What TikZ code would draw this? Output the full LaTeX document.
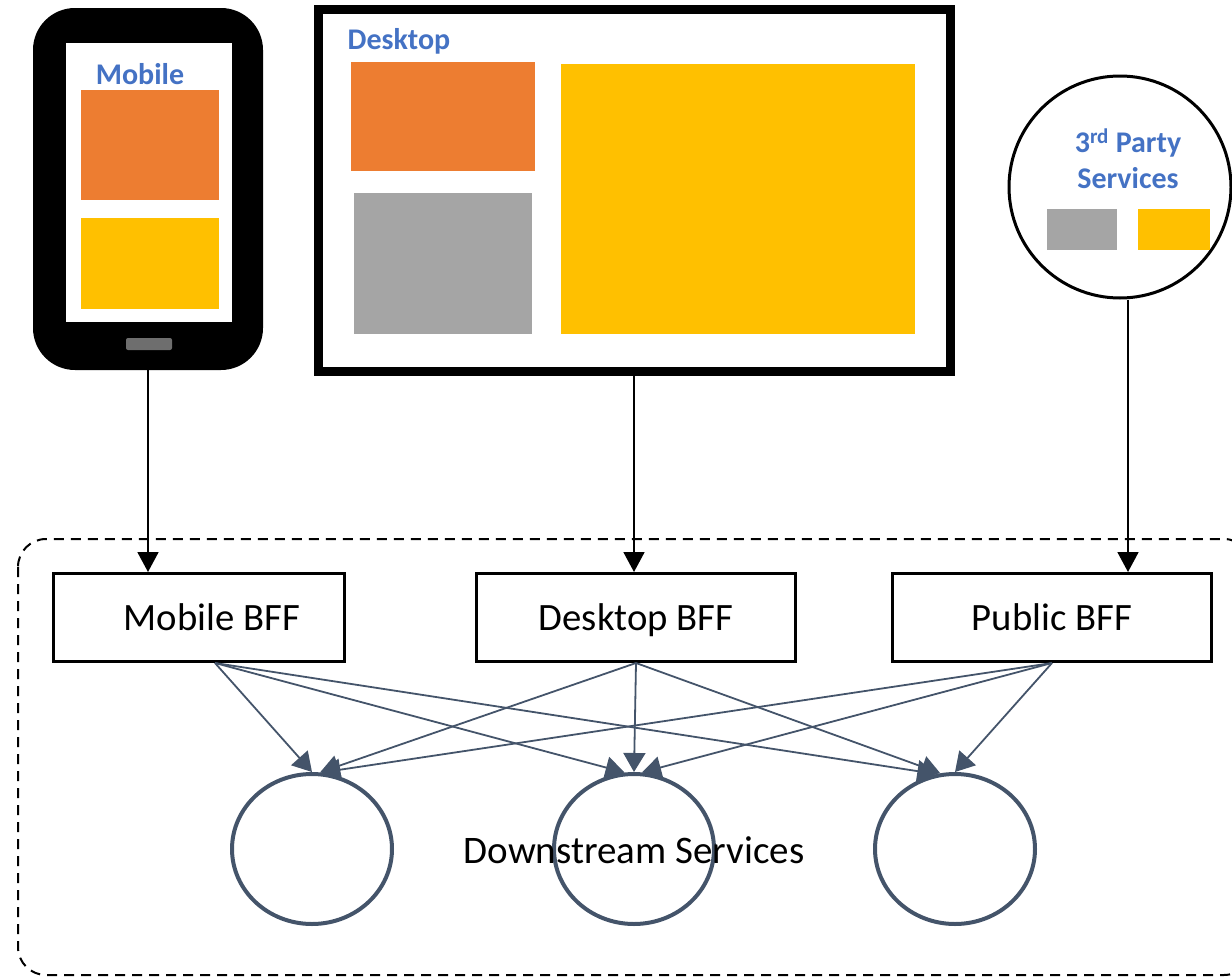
\documentclass[tikz,border=0pt]{standalone}
\usepackage{fontspec}
\setmainfont{Carlito}
\usetikzlibrary{arrows.meta,shapes.geometric,calc}
\definecolor{officeblue}{HTML}{4472C4}
\definecolor{accorange}{HTML}{ED7D31}
\definecolor{accyellow}{HTML}{FFC000}
\definecolor{accgray}{HTML}{A5A5A5}
\definecolor{slate}{HTML}{44546A}
\definecolor{btngray}{HTML}{6E6E6E}
\begin{document}
\begin{tikzpicture}[x=1pt,y=-1pt,
  bfftext/.style={font=\fontsize{38.7}{46}\selectfont,text height=27pt,text depth=2pt},
  bff/.style={draw=black,line width=3pt,minimum height=88pt,inner sep=0pt,bfftext},
  svc/.style={ellipse,draw=slate,line width=4pt,minimum width=160pt,minimum height=150pt,inner sep=0pt},
  caption/.style={text=officeblue,font=\fontsize{30}{35}\selectfont\bfseries,inner sep=0pt},
  feed/.style={draw=black,line width=1.8pt,-{Triangle[length=20pt,width=21pt]}},
  fanout/.style={draw=slate,line width=1.8pt,-{Triangle[length=19pt,width=22pt]}}]
\path[use as bounding box] (0,0) rectangle (1232,977);
\clip (0,0) rectangle (1232,977);

% gateway zone
\draw[black,line width=2pt,dash pattern=on 10pt off 7pt,rounded corners=28pt]
  (18,539) rectangle (1252,975);

% mobile device
\node[fill=black,rounded corners=42pt,minimum width=230pt,minimum height=362pt,inner sep=0pt]
  (phone) at (148,189) {};
\fill[white] (66,43) rectangle (232,322);
\node[caption] (mlabel) at (140,74) {Mobile};
\fill[accorange] (81,90) rectangle (219,200);
\fill[accyellow] (81,218) rectangle (219,309);
\fill[btngray,rounded corners=2pt] (126,338) rectangle (172,350);

% desktop screen
\node[draw=black,line width=9pt,minimum width=632pt,minimum height=362pt,inner sep=0pt]
  (desk) at (634,190) {};
\node[caption] (dlabel) at (399,41) {Desktop};
\fill[accorange] (351,62) rectangle (535,171);
\fill[accgray] (354,193) rectangle (532,334);
\fill[accyellow] (561,64) rectangle (915,334);

% third party services
\node[circle,draw=black,line width=3pt,minimum size=222pt,inner sep=0pt] (tp) at (1120,187) {};
\node[caption] (tplabel1) at (1128,143) {3\textsuperscript{rd} Party};
\node[caption] (tplabel2) at (1128,178) {Services};
\fill[accgray] (1047,209) rectangle (1117,250);
\fill[accyellow] (1138,209) rectangle (1210,250);

% backends for frontends
\node[bff,minimum width=291pt,label={[xshift=13pt,inner sep=0pt,bfftext]center:Mobile BFF}]
  (mbff) at (199,617.5) {};
\node[bff,minimum width=319pt] (dbff) at (636,617.5) {Desktop BFF};
\node[bff,minimum width=319pt] (pbff) at (1052,617.5) {Public BFF};

% downstream services
\node[svc] (c1) at (312,849) {};
\node[svc] (c2) at (634,849) {};
\node[svc] (c3) at (955,849) {};
\node[font=\fontsize{39}{46}\selectfont,inner sep=0pt] (ds) at (634,850) {Downstream Services};

% clients to BFFs
\draw[feed] (phone.south) -- (phone.south |- mbff.north);
\draw[feed] (desk.south) -- (desk.south |- dbff.north);
\draw[feed] ([xshift=8pt]tp.south) -- ([xshift=8pt]tp.south |- pbff.north);

% BFFs to downstream services
\coordinate (mo) at ([xshift=16pt]mbff.south);
\draw[fanout] (mo) -- (c1.90);
\draw[fanout] (mo) -- (c2.97);
\draw[fanout] (mo) -- (c3.104);
\draw[fanout] (dbff.south) -- (c1.84);
\draw[fanout] (dbff.south) -- (c2.90);
\draw[fanout] (dbff.south) -- (c3.101);
\draw[fanout] (pbff.south) -- (c1.83);
\draw[fanout] (pbff.south) -- (c2.84);
\draw[fanout] (pbff.south) -- (c3.90);
\end{tikzpicture}
\end{document}
